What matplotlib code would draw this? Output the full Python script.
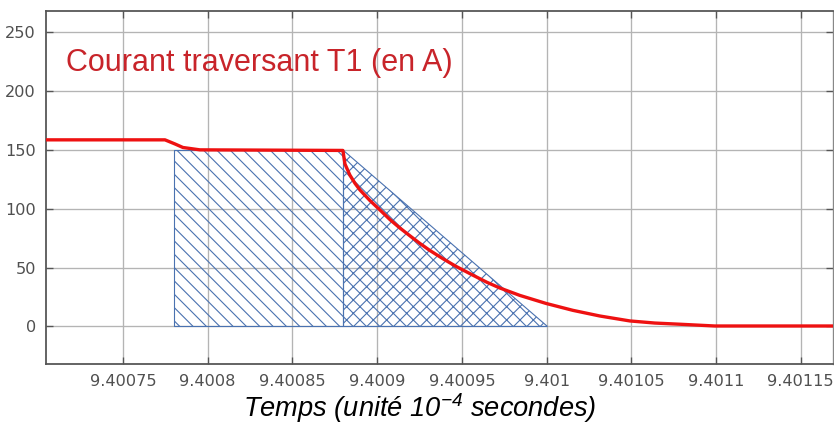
import matplotlib
matplotlib.use("Agg")
import matplotlib.pyplot as plt
import numpy as np

# ---- data ----
t_curve = [9.40070, 9.4007748, 9.4007807, 9.4007854, 9.4007954, 9.4008798,
           9.4008810, 9.4008839, 9.4008869, 9.4008898, 9.4008957, 9.4009016,
           9.4009075, 9.4009134, 9.4009193, 9.4009252, 9.4009311, 9.4009388,
           9.4009465, 9.4009565, 9.4009647, 9.4009724, 9.4009842, 9.4009996,
           9.4010155, 9.4010314, 9.4010491, 9.4010639, 9.4010786, 9.4010993,
           9.40117]
i_curve = [158.5, 158.5, 155, 152, 150, 149.5,
           138, 128.6, 121.6, 116, 107, 99,
           90.8, 83.6, 77, 70.5, 64.5, 57.5,
           51, 43.5, 37.5, 32.6, 26.3, 19.5,
           13.6, 8.8, 4.6, 2.8, 1.8, 0.3,
           0.3]

rect_t = [9.40078, 9.40088]
rect_i = [0, 150]
tri_t = [9.40088, 9.40088, 9.40100]
tri_i = [150, 0, 0]

xticks = [9.40075, 9.40080, 9.40085, 9.40090, 9.40095, 9.40100, 9.40105, 9.40110, 9.40115]
xticklabels = ["9.40075", "9.4008", "9.40085", "9.4009", "9.40095", "9.401", "9.40105", "9.4011", "9.40115"]
yticks = [0, 50, 100, 150, 200, 250]
yticklabels = ["0", "50", "100", "150", "200", "250"]

title = "Courant traversant T1 (en A)"
xlabel = "Temps (unité 10$^{\\mathit{-4}}$ secondes)"

plt.rcParams["mathtext.fontset"] = "custom"
plt.rcParams["mathtext.rm"] = "Liberation Sans:italic"
plt.rcParams["mathtext.it"] = "Liberation Sans:italic"

DPI = 80
fig = plt.figure(figsize=(834 / DPI, 424 / DPI), dpi=DPI)
ax = fig.add_axes([46 / 834, 1 - 364 / 424, (833 - 46) / 834, (364 - 11) / 424])

hatch_col = "#4a72b0"
plt.rcParams["hatch.linewidth"] = 1.0
plt.rcParams["hatch.color"] = hatch_col

ax.fill_between(rect_t, [rect_i[1]] * 2, [rect_i[0]] * 2, facecolor="none",
                edgecolor=hatch_col, hatch="\\\\", linewidth=1.0, zorder=2)
ax.fill(tri_t, tri_i, facecolor="none", edgecolor=hatch_col, hatch="xx",
        linewidth=1.0, zorder=2)

ax.plot(t_curve, i_curve, color="#ee1111", linewidth=3.0, zorder=3,
        solid_capstyle="butt", solid_joinstyle="round")

ax.set_xlim(9.4007046, 9.401169)
ax.set_ylim(-32, 268)
ax.set_xticks(xticks)
ax.set_xticklabels(xticklabels)
ax.set_yticks(yticks)
ax.set_yticklabels(yticklabels)

ax.grid(True, color="#b4b4b4", linewidth=1.2, zorder=0)
ax.set_axisbelow(True)
ax.tick_params(direction="in", length=6, width=1.2, color="#555555",
               labelcolor="#505050", labelsize=14.5, top=True, right=True,
               pad=9)
for side, sp in ax.spines.items():
    sp.set_color("#555555")
    sp.set_linewidth(1.6)
ax.spines["right"].set_color("#888888")
ax.spines["right"].set_linewidth(1.2)

fig.text(66 / 834, 1 - 63 / 424, title, color="#c8242a",
         fontsize=27.5, family="Liberation Sans", va="center", ha="left")

fig.text(420 / 834, 1 - 408 / 424, xlabel, color="black", fontsize=24.5,
         family="Liberation Sans", style="italic", ha="center", va="center")

fig.savefig("out.png", dpi=DPI)
